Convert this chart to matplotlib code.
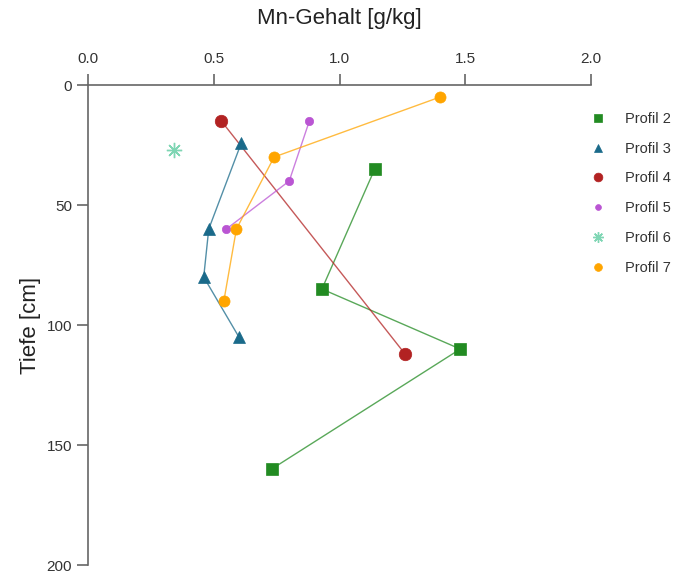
import matplotlib.pyplot as plt

plt.rcParams['font.family'] = ['Liberation Sans', 'DejaVu Sans']

# Mn content [g/kg] and depth [cm] per profile
profil2_mn = [1.14, 0.93, 1.48, 0.73]
profil2_depth = [35, 85, 110, 160]
profil3_mn = [0.61, 0.48, 0.46, 0.60]
profil3_depth = [24, 60, 80, 105]
profil4_mn = [0.53, 1.26]
profil4_depth = [15, 112]
profil5_mn = [0.88, 0.80, 0.55]
profil5_depth = [15, 40, 60]
profil6_mn = [0.34]
profil6_depth = [27]
profil7_mn = [1.40, 0.74, 0.59, 0.54]
profil7_depth = [5, 30, 60, 90]

series = [
    ("Profil 2", profil2_mn, profil2_depth, '#228B22', 's', 8),
    ("Profil 3", profil3_mn, profil3_depth, '#1A6A8A', '^', 9),
    ("Profil 4", profil4_mn, profil4_depth, '#B22222', 'o', 9),
    ("Profil 5", profil5_mn, profil5_depth, '#BA55D3', 'o', 6),
    ("Profil 6", profil6_mn, profil6_depth, '#7FD6B4', (8, 2, 0), 11),
    ("Profil 7", profil7_mn, profil7_depth, '#FFA500', 'o', 8),
]

fig = plt.figure(figsize=(6.74, 5.76), dpi=100)
ax = fig.add_axes([0.1306, 0.019, 0.7463, 0.8334])

for label, mn, depth, color, marker, ms in series:
    ax.plot(mn, depth, color=color, alpha=0.75, lw=1, zorder=2)
    ax.plot(mn, depth, linestyle='none', marker=marker, color=color,
            markersize=ms, label=label, zorder=3,
            markeredgewidth=1.0 if marker == (8, 2, 0) else 0.5)

ax.set_xlim(0, 2.0)
ax.set_ylim(200, 0)
ax.xaxis.tick_top()
ax.xaxis.set_label_position('top')
ax.set_xticks([0.0, 0.5, 1.0, 1.5, 2.0])
ax.set_xticklabels(['0.0', '0.5', '1.0', '1.5', '2.0'])
ax.set_yticks([0, 50, 100, 150, 200])

for side in ['right', 'bottom']:
    ax.spines[side].set_visible(False)
for side in ['top', 'left']:
    ax.spines[side].set_color('#666666')
    ax.spines[side].set_linewidth(1.2)
ax.tick_params(colors='#666666', labelcolor='#333333', labelsize=11,
               length=8, width=1.2, direction='out')
ax.tick_params(axis='x', pad=6)

ax.set_xlabel('Mn-Gehalt [g/kg]', fontsize=16, color='#222222', labelpad=20)
ax.set_ylabel('Tiefe [cm]', fontsize=16, color='#222222', labelpad=4)

ax.legend(loc='upper left', bbox_to_anchor=(1.0, 0.944), frameon=False,
          fontsize=10.5, markerscale=0.7, labelspacing=1.08,
          borderaxespad=0, borderpad=0, handlelength=1.0,
          handletextpad=1.3, labelcolor='#333333')

fig.savefig('out.png', dpi=100)
